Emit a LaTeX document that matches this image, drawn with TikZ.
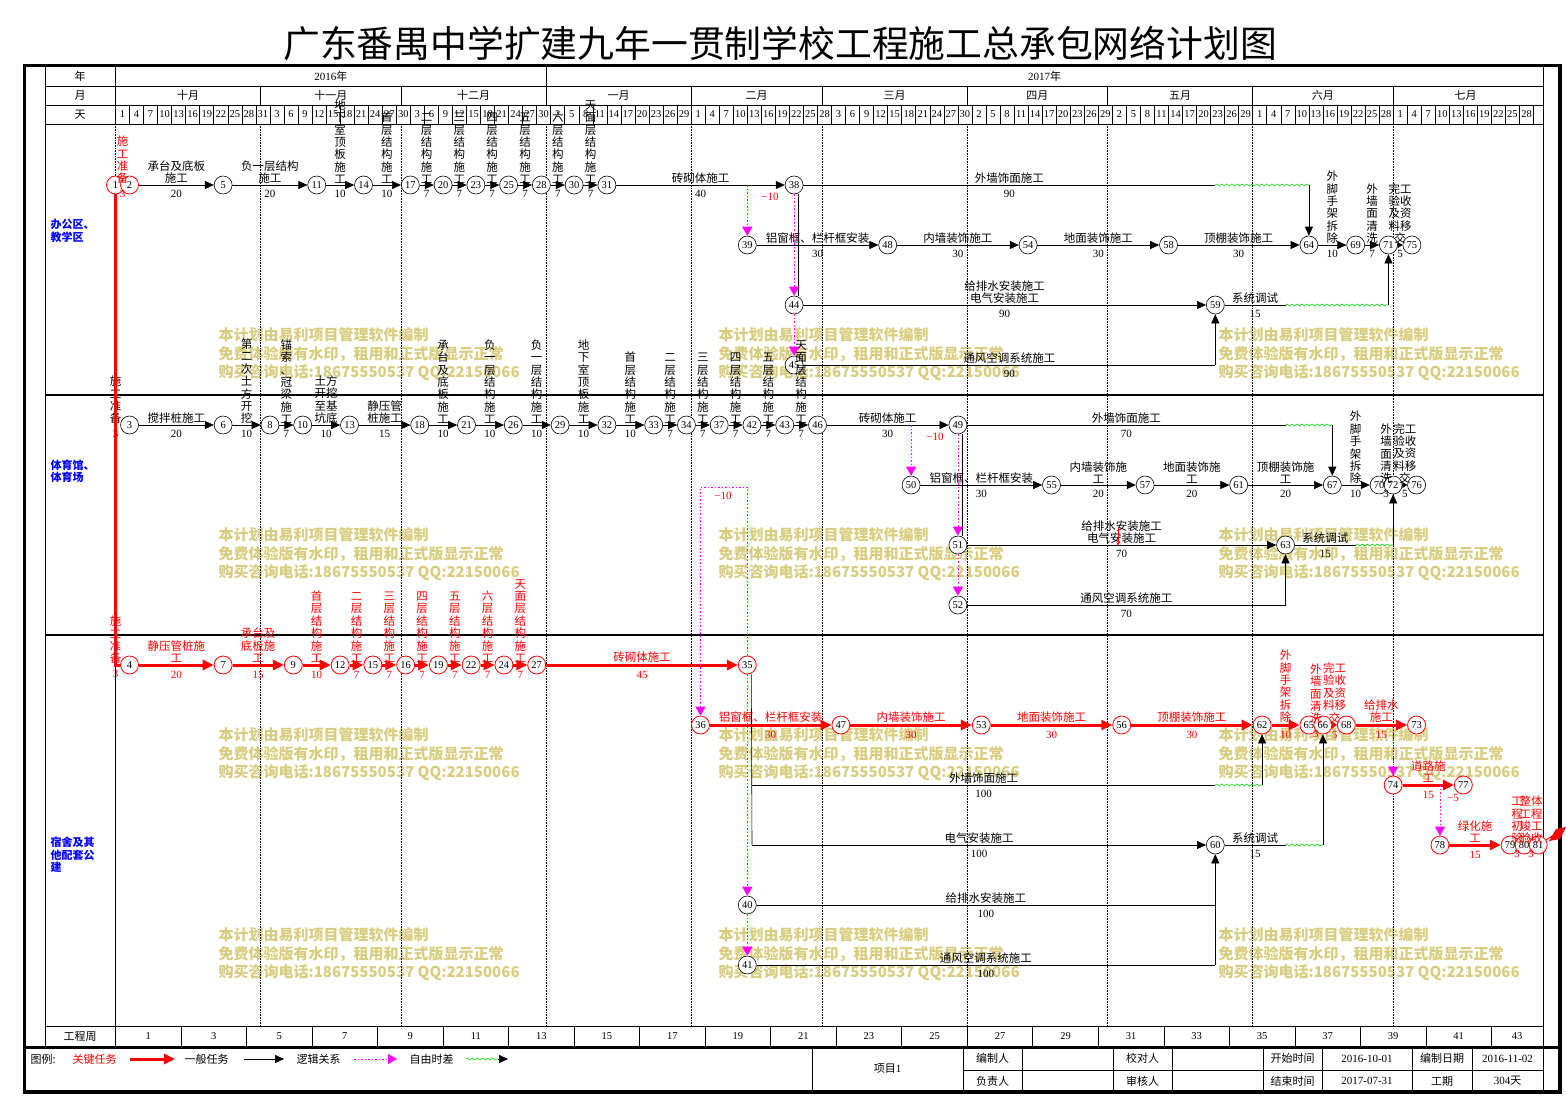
\documentclass[tikz,border=0pt]{standalone}
\usepackage{fontspec}
\setmainfont{Noto Sans CJK SC}
\newfontfamily\numf{Liberation Serif}
\usetikzlibrary{arrows.meta,decorations.pathmorphing,calc}
\XeTeXlinebreaklocale "zh"
\XeTeXlinebreakskip=0pt plus 1pt
\definecolor{wmark}{RGB}{216,204,126}
\definecolor{flgreen}{RGB}{0,220,0}
\definecolor{lnkpink}{RGB}{255,0,255}
\tikzset{ev/.style={circle,draw,line width=0.6pt,fill=white,inner sep=0pt,
      minimum size=18pt,font=\numf\fontsize{10.5}{11}\selectfont},
    evc/.style={ev,draw=red,line width=0.8pt},
    job/.style={line width=0.6pt,-{Triangle[length=9pt,width=8pt]}},
    jobs/.style={line width=0.6pt,-{Triangle[length=5pt,width=6pt]}},
    jobc/.style={red,line width=3pt,-{Triangle[length=11pt,width=10pt]}},
    jobcs/.style={red,line width=2pt,-{Triangle[length=5pt,width=7pt]}},
    tie/.style={line width=0.6pt},
    lnk/.style={lnkpink,line width=0.8pt,dash pattern=on 1.5pt off 2pt,
      -{Triangle[length=9pt,width=10pt]}},
    flt/.style={flgreen,line width=0.6pt,decorate,
      decoration={snake,amplitude=1pt,segment length=5pt}},
    lab/.style={anchor=south,align=center,inner sep=1pt,
      font=\fontsize{11.5}{12.4}\selectfont},
    vlab/.style={lab,text width=12pt},
    wlab/.style={lab,text width=24pt},
    dur/.style={anchor=north,inner sep=2pt,yshift=-3pt,font=\numf\fontsize{11}{12}\selectfont},
    neg/.style={text=red,font=\numf\fontsize{11}{12}\selectfont},
    hd/.style={font=\fontsize{11}{12}\selectfont},
    hdn/.style={font=\numf\fontsize{10.5}{11}\selectfont},
    area/.style={anchor=west,align=left,text=blue,font=\bfseries\fontsize{11}{12.5}\selectfont},
    wm/.style={anchor=north west,align=left,text=wmark,
      font=\bfseries\fontsize{15}{18.5}\selectfont},
    grid/.style={line width=0.6pt},
    band/.style={line width=2pt},
    mon/.style={densely dotted,line width=0.6pt},
    }

\begin{document}
\begin{tikzpicture}[x=1pt,y=-1pt,declare function={dd(\k)=115.5+4.68*\k;}]
\useasboundingbox (0,0) rectangle (1566,1096);
\node[font=\fontsize{36.8}{40}\selectfont] (title) at (780,43)
  {广东番禺中学扩建九年一贯制学校工程施工总承包网络计划图};

% watermark
\foreach \wx in {215,715,1215}
  \foreach \wy in {324,524,724,924}
    \node[wm] at (\wx,\wy) {本计划由易利项目管理软件编制\\免费体验版有水印，租用和正式版显示正常\\购买咨询电话:18675550537 QQ:22150066};

% frame and time scale
\draw[line width=3.5pt] (24.5,65.5) rectangle (1560,1092);
\draw[line width=3pt] (24.5,1047) -- (1560,1047);
\draw[grid] (45,66) -- (45,1047);
\draw[grid] (1543,66) -- (1543,1092);
\foreach \y in {86,105,124,1026}
  \draw[grid] (45,\y) -- (1543,\y);
\draw[band] (45,395) -- (1543,395);
\draw[band] (45,635) -- (1543,635);
\draw[grid] (115.5,66) -- (115.5,124);
\draw[grid] (115.5,1026) -- (115.5,1047);
\node[hd] (hy) at (80,76.5) {年};
\node[hd] (hm) at (80,95.5) {月};
\node[hd] (hday) at (80,114.5) {天};
\node[hd] (hw) at (80,1036) {工程周};
\draw[grid] ({dd(92)},66) -- ({dd(92)},86);
\node[hd] (y16) at ({(dd(0)+dd(92))/2},76.5) {{\numf 2016}年};
\node[hd] (y17) at ({(dd(92)+1543)/2},76.5) {{\numf 2017}年};
\foreach \m/\s/\e in {十月/0/31,十一月/31/61,十二月/61/92,一月/92/123,二月/123/151,
    三月/151/182,四月/182/212,五月/212/243,六月/243/273,七月/273/304}{
  \node[hd] at ({(dd(\s)+dd(\e))/2},95.5) {\m};
  \draw[grid] ({dd(\s)},86) -- ({dd(\s)},105);
  \draw[mon] ({dd(\s)},124) -- ({dd(\s)},1026);
}
\foreach \v [count=\i from 0] in {1,4,7,10,13,16,19,22,25,28,31,3,6,9,12,15,18,21,24,27,30,
    3,6,9,12,15,18,21,24,27,30,2,5,8,11,14,17,20,23,26,29,1,4,7,10,13,16,19,22,25,28,
    3,6,9,12,15,18,21,24,27,30,2,5,8,11,14,17,20,23,26,29,2,5,8,11,14,17,20,23,26,29,
    1,4,7,10,13,16,19,22,25,28,1,4,7,10,13,16,19,22,25,28}{
  \draw[grid] ({dd(3*\i)},105) -- ({dd(3*\i)},124);
  \node[hdn] at ({dd(3*\i+1.5)},114.5) {\v};
}
\draw[grid] ({dd(303)},105) -- ({dd(303)},124);
\foreach \k [evaluate=\k as \w using int(2*\k+1)] in {0,...,21}{
  \draw[grid] ({dd(14*\k)},1026) -- ({dd(14*\k)},1046);
  \node[hdn] at ({min(dd(14*\k+7),(dd(14*\k)+1543)/2)},1036) {\w};
}
\node[area] (a1) at (47,231) {办公区、\\教学区};
\node[area] (a2) at (47,471) {体育馆、\\体育场};
\node[area] (a3) at (47,855) {宿舍及其\\他配套公\\建};

% events
\foreach \n/\k/\y in {5/23/185,11/43/185,14/53/185,17/63/185,20/70/185,23/77/185,
    25/84/185,28/91/185,30/98/185,31/105/185,38/145/185,39/135/245,48/165/245,
    54/195/245,58/225/245,64/255/245,69/265/245,71/272/245,75/277/245,44/145/305,
    59/235/305,45/145/365,
    3/3/425,6/23/425,8/33/425,10/40/425,13/50/425,18/65/425,21/75/425,26/85/425,
    29/95/425,32/105/425,33/115/425,34/122/425,37/129/425,42/136/425,43/143/425,
    46/150/425,49/180/425,50/170/485,55/200/485,57/220/485,61/240/485,67/260/485,
    70/270/485,72/273/485,76/278/485,51/180/545,63/250/545,52/180/605,
    60/235/845,40/135/905,41/135/965}
  \node[ev] (n\n) at ({dd(\k)},\y) {\n};
\foreach \n/\k/\y in {1/0/185,2/3/185,4/3/665,7/23/665,9/38/665,12/48/665,15/55/665,
    16/62/665,19/69/665,22/76/665,24/83/665,27/90/665,35/135/665,36/125/725,
    47/155/725,53/185/725,56/215/725,62/245/725,65/255/725,66/258/725,68/263/725,
    73/278/725,74/273/785,77/288/785,78/283/845,79/298/845,80/301/845,81/304/845}
  \node[evc] (n\n) at ({dd(\k)},\y) {\n};

% work on one line
\foreach \na/\nb/\st/\txt/\du in {2/5/lab/{承台及底板\\施工}/20,5/11/lab/{负一层结构\\施工}/20,
    11/14/vlab/地下室顶板施工/10,14/17/vlab/首层结构施工/10,17/20/vlab/二层结构施工/7,
    20/23/vlab/三层结构施工/7,23/25/vlab/四层结构施工/7,25/28/vlab/五层结构施工/7,
    28/30/vlab/六层结构施工/7,30/31/vlab/天面层结构施工/7,31/38/lab/砖砌体施工/40,
    39/48/lab/铝窗框、栏杆框安装/30,48/54/lab/内墙装饰施工/30,54/58/lab/地面装饰施工/30,
    58/64/lab/顶棚装饰施工/30,64/69/vlab/外脚手架拆除/10,69/71/vlab/外墙面清洗/7,
    44/59/lab/{给排水安装施工\\电气安装施工}/90,
    3/6/lab/搅拌桩施工/20,6/8/vlab/第二次土方开挖/10,8/10/vlab/{锚\\索\\、\\冠\\梁\\施\\工}/7,
    10/13/wlab/土方开挖至基坑底/10,13/18/lab/{静压管\\桩施工}/15,18/21/vlab/承台及底板施工/10,
    21/26/vlab/负一层结构施工/10,26/29/vlab/负一层结构施工/10,29/32/vlab/地下室顶板施工/10,
    32/33/vlab/首层结构施工/10,33/34/vlab/二层结构施工/7,34/37/vlab/三层结构施工/7,
    37/42/vlab/四层结构施工/7,42/43/vlab/五层结构施工/7,43/46/vlab/天面层结构施工/7,
    46/49/lab/砖砌体施工/30,50/55/lab/铝窗框、栏杆框安装/30,55/57/lab/{内墙装饰施\\工}/20,
    57/61/lab/{地面装饰施\\工}/20,61/67/lab/{顶棚装饰施\\工}/20,67/70/vlab/外脚手架拆除/10,
    51/63/lab/{给排水安装施工\\电气安装施工}/70}
  \draw[job] (n\na) -- (n\nb) node[midway,\st] {\txt} node[midway,dur] {\du};
\foreach \na/\nb/\st/\txt/\du in {4/7/lab/{静压管桩施\\工}/20,7/9/lab/{承台及\\底板施\\工}/15,
    9/12/vlab/首层结构施工/10,12/15/vlab/二层结构施工/7,15/16/vlab/三层结构施工/7,
    16/19/vlab/四层结构施工/7,19/22/vlab/五层结构施工/7,22/24/vlab/六层结构施工/7,
    24/27/vlab/天面层结构施工/7,27/35/lab/砖砌体施工/45,36/47/lab/铝窗框、栏杆框安装/30,
    47/53/lab/内墙装饰施工/30,53/56/lab/地面装饰施工/30,56/62/lab/顶棚装饰施工/30,
    62/65/vlab/外脚手架拆除/10,68/73/lab/{给排水\\施工}/15,74/77/lab/{道路施\\工}/15,
    78/79/lab/{绿化施\\工}/15}
  \draw[jobc] (n\na) -- (n\nb) node[midway,\st] {\txt} node[midway,dur] {\du};
\draw[jobs] (n71) -- (n75) node[midway,wlab] {完工验收及资料移交} node[midway,dur] {5};
\draw[jobs] (n72) -- (n76) node[midway,wlab] {完工验收及资料移交} node[midway,dur] {5};
\draw[jobcs] (n66) -- (n68) node[midway,wlab] {完工验收及资料移交} node[midway,dur] {5};
\node[vlab,text=red] (t12) at ($(n1)!0.5!(n2)$) {施工准备};
\node[dur,text=red] (d12) at ($(n1)!0.5!(n2)$) {3};
\node[vlab] (t13) at (n1 |- n3) {施工准备};
\node[dur] (d13) at (n1 |- n3) {3};
\node[vlab,text=red] (t14) at (n1 |- n4) {施工准备};
\node[dur,text=red] (d14) at (n1 |- n4) {3};
\node[vlab] (t72) at ($(n70)!0.5!(n72)$) {外墙面清洗};
\node[dur] (d72) at ($(n70)!0.5!(n72)$) {3};
\node[vlab,text=red] (t66) at ($(n65)!0.5!(n66)$) {外墙面清洗};
\node[dur,text=red] (d66) at ($(n65)!0.5!(n66)$) {3};
\node[vlab,text=red] (t80) at ($(n79)!0.5!(n80)$) {工程初验};
\node[dur,text=red] (d80) at ($(n79)!0.5!(n80)$) {3};
\node[wlab,text=red] (t81) at ($(n80)!0.5!(n81)$) {整体工程竣工验收};
\node[dur,text=red] (d81) at ($(n80)!0.5!(n81)$) {3};
\coordinate (c0) at (115.5,1026);
\draw[tie] (n1 |- n4) -- (c0);
\draw[red,line width=3pt] (n1) -- (n1 |- n4) -- (n4);

% 办公区、教学区
\coordinate (c1a) at ({dd(235)},185);
\coordinate (c1b) at (n64 |- n38);
\draw[tie] (n38) -- node[lab] {外墙饰面施工} node[dur] {90} (c1a);
\draw[flt] (c1a) -- (c1b);
\draw[job] (c1b) -- (n64);
\coordinate (c2a) at (n59 |- n45);
\draw[tie] (n45) -- node[lab] {通风空调系统施工} node[dur] {90} (c2a);
\draw[job] (c2a) -- (n59);
\coordinate (c3a) at ({dd(250)},305);
\coordinate (c3b) at (n71 |- n59);
\draw[tie] (n59) -- node[lab] {系统调试} node[dur] {15} (c3a);
\draw[flt] (c3a) -- (c3b);
\draw[job] (c3b) -- (n71);
\draw[tie] ([xshift=4pt]n38.south) -- ([xshift=4pt]n44.north);
\draw[lnk] (n38) -- (n44);
\draw[lnk] (n44) -- (n45);
\draw[lnk] (n39 |- n38) -- (n39);
\node[neg] (m38) at (770,197) {−10};

% 体育馆、体育场
\coordinate (c4a) at ({dd(250)},425);
\coordinate (c4b) at (n67 |- n49);
\draw[tie] (n49) -- node[lab] {外墙饰面施工} node[dur] {70} (c4a);
\draw[flt] (c4a) -- (c4b);
\draw[job] (c4b) -- (n67);
\coordinate (c5a) at (n63 |- n52);
\draw[tie] (n52) -- node[lab] {通风空调系统施工} node[dur] {70} (c5a);
\draw[job] (c5a) -- (n63);
\coordinate (c6a) at ({dd(265)},545);
\coordinate (c6b) at (n72 |- n63);
\draw[tie] (n63) -- node[lab] {系统调试} node[dur] {15} (c6a);
\draw[flt] (c6a) -- (c6b);
\draw[job] (c6b) -- (n72);
\draw[tie] ([xshift=4pt]n49.south) -- ([xshift=4pt]n51.north);
\draw[lnk] (n49) -- (n51);
\draw[lnk] (n51) -- (n52);
\draw[lnk] (n50 |- n46) -- (n50);
\node[neg] (m49) at (935,437) {−10};
\coordinate (r1) at (1118,527);
\coordinate (r2) at (1118,546);
\draw[red,line width=0.8pt,-{Stealth[length=4pt]}] (r1) -- (r2);

% 宿舍及其他配套公建
\coordinate (c7a) at ([xshift=4pt]n35.south);
\coordinate (c7b) at (752,785);
\coordinate (c7c) at (752,845);
\draw[tie] (c7a) -- (c7c);
\coordinate (c7d) at ({dd(235)},785);
\coordinate (c7e) at (n62 |- c7d);
\draw[tie] (c7b) -- node[lab] {外墙饰面施工} node[dur] {100} (c7d);
\draw[flt] (c7d) -- (c7e);
\draw[job] (c7e) -- (n62);
\draw[job] (c7c) -- node[lab] {电气安装施工} node[dur] {100} (n60);
\coordinate (c8a) at (n60 |- n40);
\coordinate (c8b) at (n60 |- n41);
\draw[tie] (n40) -- node[lab] {给排水安装施工} node[dur] {100} (c8a);
\draw[tie] (n41) -- node[lab] {通风空调系统施工} node[dur] {100} (c8b);
\draw[job] (c8b) -- (n60);
\coordinate (c9a) at ({dd(250)},845);
\coordinate (c9b) at (n66 |- n60);
\draw[tie] (n60) -- node[lab] {系统调试} node[dur] {15} (c9a);
\draw[flt] (c9a) -- (c9b);
\draw[job] (c9b) -- (n66);
\coordinate (c10) at ({dd(125)},487);
\draw[lnk] (n35) |- (c10) -- (n36);
\draw[lnk] (n35) -- (n40);
\draw[lnk] (n40) -- (n41);
\node[neg] (m36) at (723,496) {−10};
\draw[lnk] (n74 |- n73) -- (n74);
\draw[lnk] (n78 |- n77) -- (n78);
\node[neg] (m77) at (1453,798) {−5};
\coordinate (fl0) at (1552,836);
\draw[red,line width=1pt] (n81) -- (fl0);
\fill[red] (1549,841) -- (1556,829) -- (1566,827) -- (1560,839) -- cycle;

% legend
\node[hd,anchor=west] (lgA) at (27,1059) {图例:};
\node[hd,anchor=west,text=red] (lgB) at (69,1059) {关键任务};
\coordinate (lk1) at (130,1059);
\coordinate (lk2) at (175,1059);
\draw[jobc] (lk1) -- (lk2);
\node[hd,anchor=west] (lgC) at (181,1059) {一般任务};
\coordinate (lk3) at (244,1059);
\coordinate (lk4) at (284,1059);
\draw[job] (lk3) -- (lk4);
\node[hd,anchor=west] (lgD) at (293,1059) {逻辑关系};
\coordinate (lk5) at (354,1059);
\coordinate (lk6) at (397,1059);
\draw[lnk] (lk5) -- (lk6);
\node[hd,anchor=west] (lgE) at (406,1059) {自由时差};
\coordinate (lk7) at (466,1059);
\coordinate (lk8) at (498,1059);
\coordinate (lk9) at (508,1059);
\draw[flt] (lk7) -- (lk8);
\draw[job] (lk8) -- (lk9);
\foreach \x in {812,963,1022,1113,1172,1263,1322,1412,1472}
  \draw[grid] (\x,1047) -- (\x,1091);
\draw[grid] (963,1070) -- (1543,1070);
\node[hd] (pj) at (887.5,1069) {项目{\numf 1}};
\foreach \x/\ta/\tb in {992.5/编制人/负责人,1142.5/校对人/审核人,1292.5/开始时间/结束时间,
    1367/{\numf 2016-10-01}/{\numf 2017-07-31},1442/编制日期/工期,
    1507.5/{\numf 2016-11-02}/{{\numf 304}天}}{
  \node[hd] at (\x,1058.5) {\ta};
  \node[hd] at (\x,1081) {\tb};
}
\end{tikzpicture}
\end{document}
